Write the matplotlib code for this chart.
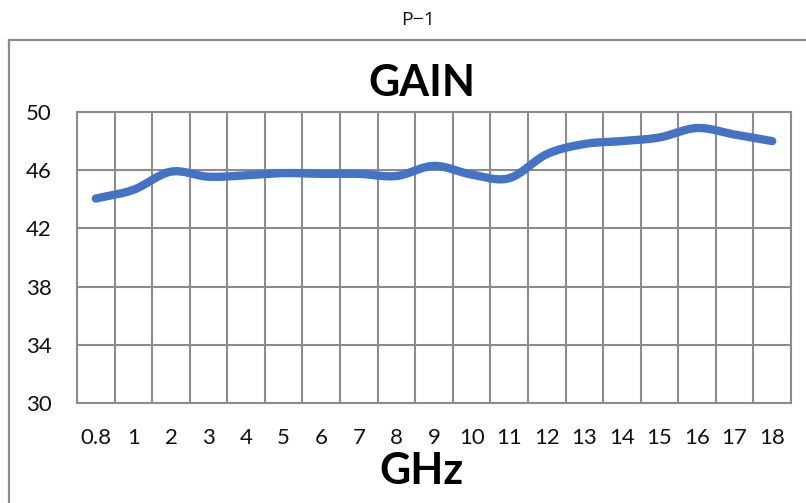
import numpy as np
import matplotlib
matplotlib.use("Agg")
import matplotlib.pyplot as plt
from matplotlib.lines import Line2D

categories = ["0.8", "1", "2", "3", "4", "5", "6", "7", "8", "9",
              "10", "11", "12", "13", "14", "15", "16", "17", "18"]
gain = [44.05, 44.65, 45.9, 45.55, 45.65, 45.8, 45.75, 45.75, 45.6, 46.3,
        45.7, 45.45, 47.1, 47.8, 48.0, 48.25, 48.9, 48.45, 48.0]
yticks = [30, 34, 38, 42, 46, 50]

FONT = ["Lato", "DejaVu Sans"]
GRID = "#8c8c8c"
BLUE = "#4472C4"


def catmull_rom(x, y, n=30):
    x = np.asarray(x, float)
    y = np.asarray(y, float)
    px = np.concatenate([[2 * x[0] - x[1]], x, [2 * x[-1] - x[-2]]])
    py = np.concatenate([[2 * y[0] - y[1]], y, [2 * y[-1] - y[-2]]])
    xs, ys = [], []
    t = np.linspace(0, 1, n, endpoint=False)
    for i in range(1, len(px) - 2):
        p0, p1, p2, p3 = (np.array([px[j], py[j]]) for j in range(i - 1, i + 3))
        tt = t[:, None]
        pts = 0.5 * ((2 * p1) + (-p0 + p2) * tt + (2 * p0 - 5 * p1 + 4 * p2 - p3) * tt ** 2
                     + (-p0 + 3 * p1 - 3 * p2 + p3) * tt ** 3)
        xs.append(pts[:, 0])
        ys.append(pts[:, 1])
    xs.append([x[-1]])
    ys.append([y[-1]])
    return np.concatenate(xs), np.concatenate(ys)


fig = plt.figure(figsize=(8.06, 5.03), dpi=100)
fig.patch.set_facecolor("white")

# outer chart frame (left and top edges visible)
W, H = 806, 503
fig.add_artist(Line2D([9 / W, 9 / W], [0, 1 - 40 / H], transform=fig.transFigure,
                      color=GRID, lw=1.6))
fig.add_artist(Line2D([9 / W, 1.0], [1 - 40 / H, 1 - 40 / H], transform=fig.transFigure,
                      color=GRID, lw=1.6))

ax = fig.add_axes([77 / W, 1 - 403 / H, (791 - 77) / W, (403 - 112) / H])
x = np.arange(len(categories))
sx, sy = catmull_rom(x, gain)
ax.plot(sx, sy, color=BLUE, lw=6, solid_capstyle="round", solid_joinstyle="round", zorder=3)

ax.set_xlim(-0.5, len(categories) - 0.5)
ax.set_ylim(30, 50)
ax.set_yticks(yticks)
ax.set_xticks(x)
ax.set_xticklabels(categories)
for b in np.arange(-0.5, len(categories), 1.0):
    ax.axvline(b, color=GRID, lw=1.5, zorder=1)
for yv in yticks:
    ax.axhline(yv, color=GRID, lw=1.5, zorder=1)
for s in ax.spines.values():
    s.set_color(GRID)
    s.set_linewidth(1.5)
ax.tick_params(length=0, labelsize=16)
ax.tick_params(axis="y", pad=18)
ax.tick_params(axis="x", pad=18)
for lab in ax.get_xticklabels() + ax.get_yticklabels():
    lab.set_family(FONT)
    lab.set_color("#111111")

fig.text(418 / W, 1 - 20 / H, "P\u22121", ha="center", va="center", fontsize=14,
         family=["Open Sans", "DejaVu Sans"], color="#111111")
fig.text(422 / W, 1 - 83 / H, "GAIN", ha="center", va="center", fontsize=31,
         family=FONT, fontweight="bold", color="black")
fig.text(421 / W, 1 - 471 / H, "GHz", ha="center", va="center", fontsize=31,
         family=FONT, fontweight="bold", color="black")

fig.savefig("out.png", dpi=100)
